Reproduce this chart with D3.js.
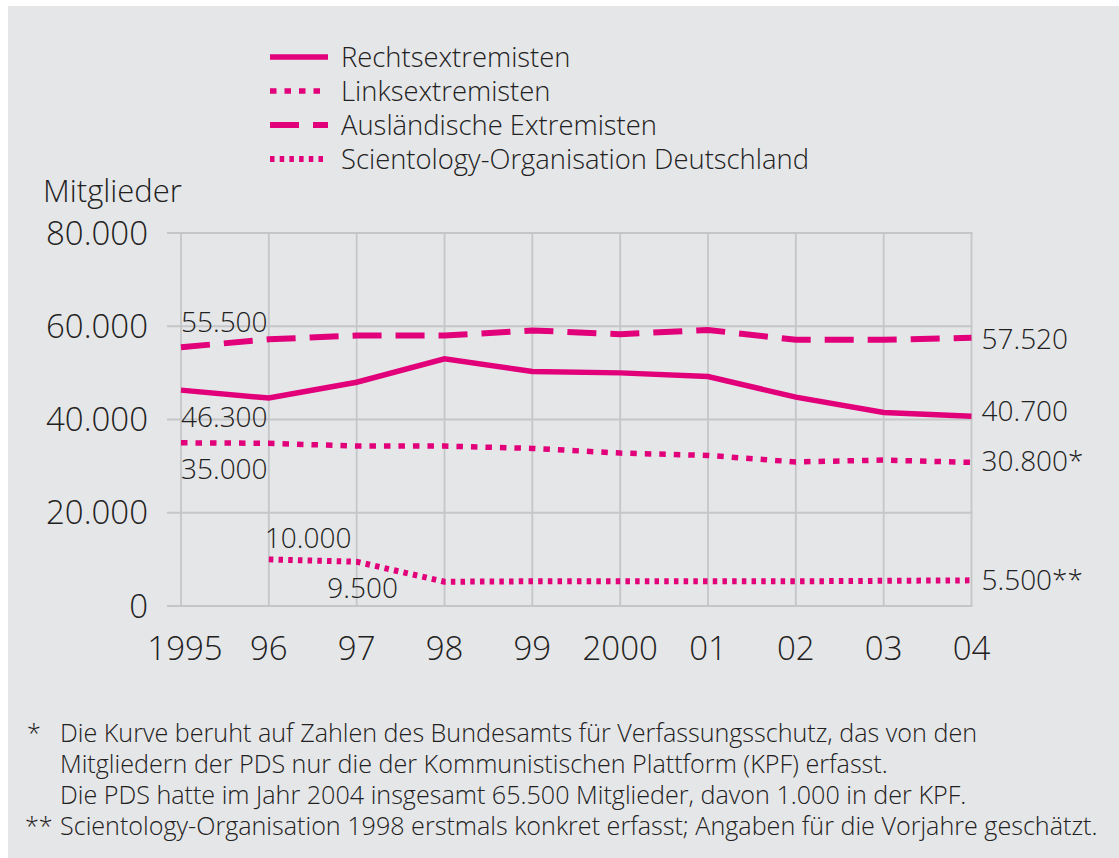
<!DOCTYPE html>
<html><head><meta charset="utf-8">
<script src="https://cdn.jsdelivr.net/npm/d3@7"></script>
<style>
html,body{margin:0;padding:0;background:#fff;}
text{font-family:"Open Sans","Noto Sans",sans-serif;font-weight:300;fill:#222121;}
</style></head>
<body>
<svg id="c" width="1119" height="858"></svg>
<script>
// ---- data ----
const years = ["1995","96","97","98","99","2000","01","02","03","04"];
const rechts = [46300, 44600, 48000, 53000, 50300, 50000, 49200, 44800, 41500, 40700];
const links = [35000, 34900, 34300, 34300, 33800, 32800, 32300, 30900, 31300, 30800];
const auslaender = [55500, 57200, 58000, 58000, 59100, 58300, 59200, 57100, 57100, 57520];
const scientology = [null, 10000, 9500, 5200, 5300, 5300, 5300, 5300, 5400, 5500];
const yTicks = [0, 20000, 40000, 60000, 80000];
const seriesNames = ["Rechtsextremisten","Linksextremisten","Ausländische Extremisten","Scientology-Organisation Deutschland"];
const footnotes = [
  ["*", "Die Kurve beruht auf Zahlen des Bundesamts für Verfassungsschutz, das von den"],
  ["", "Mitgliedern der PDS nur die der Kommunistischen Plattform (KPF) erfasst."],
  ["", "Die PDS hatte im Jahr 2004 insgesamt 65.500 Mitglieder, davon 1.000 in der KPF."],
  ["**", "Scientology-Organisation 1998 erstmals konkret erfasst; Angaben für die Vorjahre geschätzt."]
];

const fmt = v => d3.format(",")(v).replace(/,/g, ".");
const C = "#e2007a";
const svg = d3.select("#c");
svg.append("rect").attr("x",8).attr("y",6).attr("width",1111).attr("height",852).attr("fill","#e5e6e8");

const x = d3.scalePoint().domain(years).range([181, 971.5]);
const y = d3.scaleLinear().domain([0, 80000]).range([606, 233]);

// grid
const g = svg.append("g");
g.selectAll(".hg").data(yTicks).join("line")
  .attr("x1",167).attr("x2",972.5).attr("y1",d=>y(d)).attr("y2",d=>y(d))
  .attr("stroke","#c5c6c8").attr("stroke-width",1.8);
g.selectAll(".vg").data(years).join("line")
  .attr("x1",d=>x(d)).attr("x2",d=>x(d)).attr("y1",y(80000)).attr("y2",y(0))
  .attr("stroke","#c5c6c8").attr("stroke-width",1.8);

// y tick labels
g.selectAll(".yl").data(yTicks).join("text")
  .attr("x",148).attr("y",d=>y(d)+11.5).attr("text-anchor","end")
  .style("font-size","33px").text(d=>fmt(d));
// x tick labels
g.selectAll(".xl").data(years).join("text")
  .attr("x",d=>x(d)+(d==="1995"?4:0)).attr("y",660).attr("text-anchor","middle")
  .style("font-size","33px").text(d=>d);
svg.append("text").attr("x",43).attr("y",202).style("font-size","31px").text("Mitglieder");

// lines
const styles = [
  {data: rechts, dash: null, w: 5.5},
  {data: links, dash: "6.5,8", w: 5.5},
  {data: auslaender, dash: "29,14", w: 6},
  {data: scientology, dash: "4.5,5.2", w: 6}
];
const line = d3.line().defined(d=>d.v!=null).x(d=>x(d.k)).y(d=>y(d.v));
styles.forEach(s=>{
  svg.append("path").datum(years.map((k,i)=>({k, v:s.data[i]})))
    .attr("d", line).attr("fill","none").attr("stroke",C)
    .attr("stroke-width",s.w).attr("stroke-dasharray",s.dash);
});

// legend
const lg = svg.append("g");
seriesNames.forEach((n,i)=>{
  const yy = 57 + i*34;
  lg.append("line").attr("x1",270).attr("x2",328).attr("y1",yy).attr("y2",yy)
    .attr("stroke",C).attr("stroke-width",styles[i].w).attr("stroke-dasharray",styles[i].dash);
  lg.append("text").attr("x",341).attr("y",yy+9.5).style("font-size","27.4px").text(n);
});

// value labels
const ann = [
  {t: fmt(auslaender[0]), k: years[0], v: auslaender[0], dx: 0, dy: -15, a: "start"},
  {t: fmt(rechts[0]), k: years[0], v: rechts[0], dx: 0, dy: 37, a: "start"},
  {t: fmt(links[0]), k: years[0], v: links[0], dx: 0, dy: 36, a: "start"},
  {t: fmt(scientology[1]), k: years[1], v: scientology[1], dx: -4, dy: -11, a: "start"},
  {t: fmt(scientology[2]), k: years[2], v: scientology[2], dx: 6, dy: 36, a: "middle"},
  {t: fmt(auslaender[9]), k: years[9], v: auslaender[9], dx: 10, dy: 11, a: "start"},
  {t: fmt(rechts[9]), k: years[9], v: rechts[9], dx: 10, dy: 5, a: "start"},
  {t: fmt(links[9])+"*", k: years[9], v: links[9], dx: 10, dy: 9, a: "start"},
  {t: fmt(scientology[9])+"**", k: years[9], v: scientology[9], dx: 10, dy: 10, a: "start"}
];
svg.selectAll(".ann").data(ann).join("text")
  .attr("x",d=>x(d.k)+d.dx).attr("y",d=>y(d.v)+d.dy).attr("text-anchor",d=>d.a)
  .style("font-size","28px").text(d=>d.t);

// footnotes
const fg = svg.append("g");
const fy = [742, 773, 804, 835];
const ft = footnotes.map((f,i)=>{
  fg.append("text").attr("x", f[0]==="*"?27:25).attr("y",fy[i]).style("font-size","22px").text(f[0]);
  return fg.append("text").attr("x",60).attr("y",fy[i]).style("font-size","22px").text(f[1]);
});
const w4 = ft[3].node().getComputedTextLength();
const fs = 22 * 1038 / w4;
fg.selectAll("text").style("font-size", fs+"px");
</script>
</body></html>
